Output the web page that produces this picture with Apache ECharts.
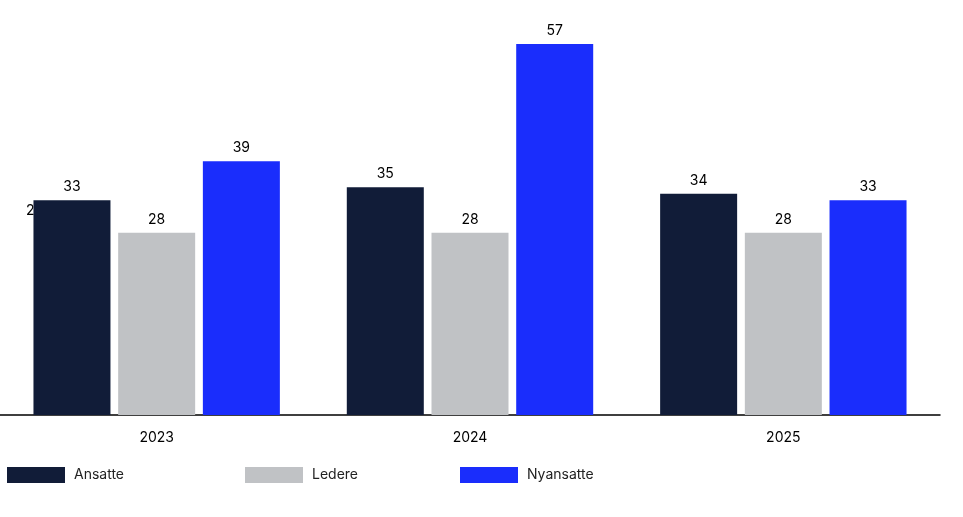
<!DOCTYPE html>
<html>
<head>
<meta charset="utf-8">
<script src="https://cdn.jsdelivr.net/npm/echarts@6/dist/echarts.min.js"></script>
<style>html,body{margin:0;padding:0;background:#fff}#chart{width:963px;height:517px}</style>
</head>
<body>
<div id="chart"></div>
<script>
var years = ['2023', '2024', '2025'];
var ansatte = [33, 35, 34];
var ledere = [28, 28, 28];
var nyansatte = [39, 57, 33];
var seriesNames = ['Ansatte', 'Ledere', 'Nyansatte'];
var colors = ['#111c38', '#c0c2c5', '#1a2dfc'];
var legendLeft = [2, 240, 455];

var chart = echarts.init(document.getElementById('chart'));
var font = 'Inter, "Noto Sans", sans-serif';

function makeSeries(name, data, i) {
    return {
        name: name,
        type: 'bar',
        data: data,
        barWidth: 77,
        barGap: '10%',
        itemStyle: { color: colors[i] },
        label: { show: true, position: 'top', color: '#000', fontSize: 14, fontFamily: font, distance: 6 }
    };
}

chart.setOption({
    animation: false,
    textStyle: { fontFamily: font },
    grid: { left: -14, right: 23, top: 44, bottom: 102 },
    legend: legendLeft.map(function (l, i) {
        return {
            data: [seriesNames[i]],
            left: l,
            top: 462,
            itemWidth: 58,
            itemHeight: 16,
            itemGap: 0,
            icon: 'rect',
            textStyle: { fontSize: 14, color: '#222', fontFamily: font, padding: [0, 0, 0, 4] }
        };
    }),
    xAxis: {
        type: 'category',
        data: years,
        axisLine: { lineStyle: { color: '#000', width: 1.5 } },
        axisTick: { show: false },
        axisLabel: { color: '#000', fontSize: 14, margin: 16 }
    },
    yAxis: { type: 'value', min: 0, max: 57, show: false, splitLine: { show: false } },
    graphic: [{
        type: 'text', left: 26, top: 204,
        style: { text: '29', fill: '#000', fontSize: 14, fontFamily: font }
    }],
    series: [
        makeSeries(seriesNames[0], ansatte, 0),
        makeSeries(seriesNames[1], ledere, 1),
        makeSeries(seriesNames[2], nyansatte, 2)
    ]
});
</script>
</body>
</html>
